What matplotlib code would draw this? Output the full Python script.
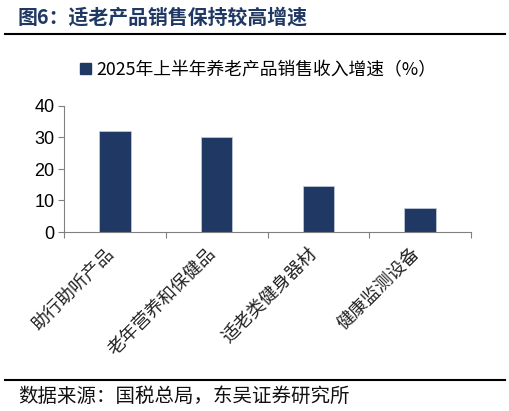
import matplotlib.pyplot as plt
from matplotlib.lines import Line2D
from matplotlib.patches import Patch

categories = ["助行助听产品", "老年营养和保健品", "适老类健身器材", "健康监测设备"]
growth = [32.2, 30.0, 14.6, 7.5]
series_name = "2025年上半年养老产品销售收入增速（%）"
title = "图6：适老产品销售保持较高增速"
source = "数据来源：国税总局，东吴证券研究所"

cjk = ["Noto Sans CJK SC", "DejaVu Sans"]
latin = ["Liberation Sans", "Noto Sans CJK SC"]
bar_color = "#203864"

fig = plt.figure(figsize=(5.10, 4.11), dpi=100)
W, H = 510, 411

ax = fig.add_axes([64 / W, 1 - 232 / H, (471 - 64) / W, (232 - 106) / H])
x = range(len(categories))
ax.bar(x, growth, width=0.31, color=bar_color, edgecolor="#c8cfdc", linewidth=0.5)
ax.set_xlim(-0.5, len(categories) - 0.5)
ax.set_ylim(0, 40)
ax.set_yticks([0, 10, 20, 30, 40])
ax.set_yticklabels(["0", "10", "20", "30", "40"], family=latin, fontsize=13)
ax.set_xticks([i - 0.5 for i in range(len(categories) + 1)])
ax.set_xticklabels([])
ax.tick_params(axis="x", direction="out", length=4, width=0.8, color="#808080")
ax.tick_params(axis="y", direction="out", length=4, width=0.8, color="#808080", pad=3)
for side in ("top", "right"):
    ax.spines[side].set_visible(False)
for side in ("left", "bottom"):
    ax.spines[side].set_color("#808080")
    ax.spines[side].set_linewidth(0.8)

for i, name in enumerate(categories):
    ax.annotate(name, xy=(i, 0), xycoords="data", xytext=(-7, -9), textcoords="offset points",
                rotation=45, ha="right", va="top", rotation_mode="anchor",
                family=cjk, fontsize=13, color="#222222", annotation_clip=False)

ax.legend(handles=[Patch(color=bar_color, label=series_name)], loc="center",
          bbox_to_anchor=(258 / W, 1 - 70 / H), bbox_transform=fig.transFigure,
          frameon=False, handlelength=0.6, handleheight=0.6, handletextpad=0.3,
          prop={"family": cjk, "size": 12.8})

fig.text(18 / W, 1 - 17 / H, title, family=cjk, fontsize=14.3, fontweight="bold",
         color="#1f3864", ha="left", va="center")
fig.add_artist(Line2D([5 / W, 505 / W], [1 - 34 / H, 1 - 34 / H], color="black", linewidth=1.5))
fig.add_artist(Line2D([5 / W, 505 / W], [1 - 380 / H, 1 - 380 / H], color="black", linewidth=1.5))
fig.text(18 / W, 1 - 396 / H, source, family=cjk, fontsize=14, color="#111111",
         ha="left", va="center")

fig.savefig("out.png", dpi=100)
